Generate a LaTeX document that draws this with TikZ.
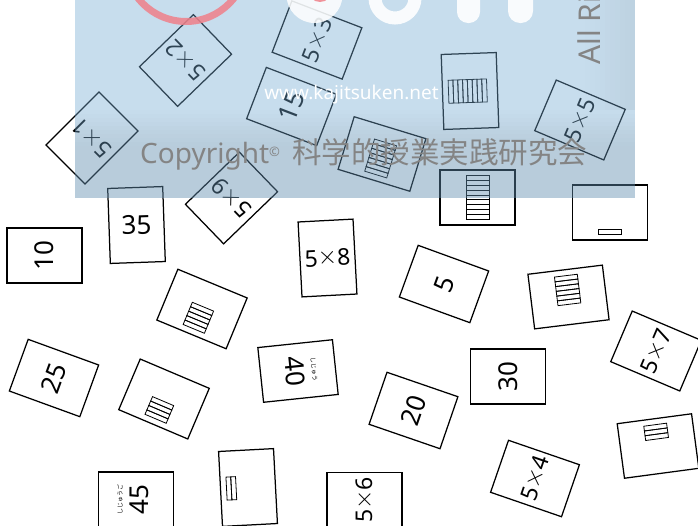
\documentclass[tikz,border=0pt]{standalone}
\usepackage{fontspec}
\setmainfont{Noto Sans}
\newfontfamily\jpfont{Noto Sans CJK JP}
\definecolor{ovl}{RGB}{117,170,210}
\definecolor{wmgray}{RGB}{132,132,132}
\definecolor{logored}{RGB}{239,128,138}
\newcommand\bigx{\raisebox{1.6pt}{\fontsize{25}{25}\selectfont$\times$}}
\tikzset{
  cardst/.style={draw=black, line width=1.25pt, fill=white, minimum width=55pt, minimum height=75pt, inner sep=0pt, transform shape},
  pcardst/.style={draw=black, line width=1.25pt, fill=white, minimum width=75pt, minimum height=55pt, inner sep=0pt, transform shape},
  numst/.style={font=\fontsize{26}{26}\selectfont, transform shape, inner sep=0pt},
  exprst/.style={font=\fontsize{23}{23}\selectfont, transform shape, inner sep=0pt},
  rubyst/.style={font=\jpfont\fontsize{6}{6}\selectfont, transform shape, inner sep=0pt},
  barst/.style={draw=black, line width=0.8pt},
}
\newcommand\txtcard[6]{%
  \begin{scope}[shift={(#2,#3)}, rotate=#4]
    \node[cardst] (#1) at (0pt,0pt) {};
    \node[#5] (#1t) at (0pt,0pt) {#6};
  \end{scope}}
\newcommand\rubycard[6]{%
  \begin{scope}[shift={(#2,#3)}, rotate=#4]
    \node[cardst] (#1) at (0pt,0pt) {};
    \node[numst] (#1t) at (0pt,-3pt) {#5};
    \node[rubyst] (#1r) at (0pt,16pt) {#6};
  \end{scope}}
\newcommand\piccard[5]{%
  \begin{scope}[shift={(#2,#3)}, rotate=#4]
    \node[pcardst] (#1) at (0pt,0pt) {};
    \foreach \k in {1,...,#5}{\draw[barst] (-11.5pt,{-21.5pt+(\k-1)*4.8pt}) rectangle (11.5pt,{-21.5pt+\k*4.8pt});}
  \end{scope}}
\begin{document}
\begin{tikzpicture}[x=1pt,y=-1pt]
\useasboundingbox (0,0) rectangle (698,525);
\fill[white] (0,0) rectangle (698,525);
% expression cards
\txtcard{e1}{92}{138}{135}{exprst}{5\bigx 1}
\txtcard{e2}{185.5}{60.5}{134}{exprst}{5\bigx 2}
\txtcard{e3}{317}{40}{69}{exprst}{5\bigx 3}
\txtcard{e4}{535}{478.5}{71}{exprst}{5\bigx 4}
\txtcard{e5}{580}{120}{67}{exprst}{5\bigx 5}
\txtcard{e6}{364.5}{500}{90}{exprst}{5\bigx 6}
\txtcard{e7}{656}{351}{67}{exprst}{5\bigx 7}
\txtcard{e8}{327.5}{258}{3}{exprst}{5\bigx 8}
\txtcard{e9}{231.5}{198}{134}{exprst}{5\bigx 9}
% number cards
\txtcard{n5}{444}{284}{70}{numst}{5}
\txtcard{n10}{44.5}{255.5}{90}{numst}{10}
\txtcard{n15}{291.5}{106.5}{69}{numst}{15}
\txtcard{n20}{413.5}{410.5}{71}{numst}{20}
\txtcard{n25}{54}{378}{70}{numst}{25}
\txtcard{n30}{508}{376.5}{90}{numst}{30}
\txtcard{n35}{136.5}{225}{2}{numst}{35}
\rubycard{n40}{298}{371}{-84}{40}{しじゅう}
\rubycard{n45}{136}{499.5}{90}{45}{しじゅうご}
% picture cards
\piccard{p1}{470}{91}{-88}{8}
\piccard{p2}{382}{154}{-17}{7}
\piccard{p3}{477.5}{197.5}{0}{9}
\piccard{p4}{610}{212.5}{0}{1}
\piccard{p5}{568.5}{297}{187}{6}
\piccard{p6}{202}{309}{-22.5}{5}
\piccard{p7}{164}{399}{-23}{4}
\piccard{p8}{248}{487.5}{-87}{2}
\piccard{p9}{658}{446}{187.6}{3}
% watermark overlay
\fill[ovl, opacity=0.4] (75,0) rectangle (635,198);
\foreach \i in {0,...,21}{\pgfmathsetmacro\op{0.075*min(1,(\i+0.5)/9)}
  \fill[black, opacity=\op] (75,{110+4*\i}) rectangle (635,{114+4*\i});}
\foreach \i in {0,...,9}{\pgfmathsetmacro\op{0.05*(\i+0.5)/10}
  \fill[black, opacity=\op] ({585+5*\i},0) rectangle ({590+5*\i},110);}
% logo pieces
\draw[logored, line width=7pt, opacity=0.85] (186,-39.5) circle[radius=61pt];
\fill[white, opacity=0.85] (314.5,-5) circle[radius=28pt];
\fill[logored, opacity=0.85] (320,-10) circle[radius=12pt];
\draw[white, line width=13pt, opacity=0.9] (395,-2) circle[radius=20pt];
\fill[white, opacity=0.9, rounded corners=11pt] (457,-30) rectangle (480,23);
\fill[white, opacity=0.9, rounded corners=12pt] (508,-30) rectangle (533,23);
% watermark texts
\node[wmgray, rotate=90, anchor=base west, inner sep=0pt, font=\fontsize{30}{30}\selectfont] (allr) at (600,65) {All Ri};
\node[white, anchor=base, inner sep=0pt, font=\fontsize{19}{19}\selectfont] (url) at (351.5,99) {www.kajitsuken.net};
\node[wmgray, anchor=base west, inner sep=0pt, font=\fontsize{28}{28}\selectfont] (copy) at (140,163) {Copyright\raisebox{7pt}{\fontsize{13}{13}\selectfont ©}};
\node[wmgray, anchor=base west, inner sep=0pt, font=\jpfont\fontsize{29.5}{29.5}\selectfont] (org) at (292,163) {科学的授業実践研究会};
\end{tikzpicture}
\end{document}
